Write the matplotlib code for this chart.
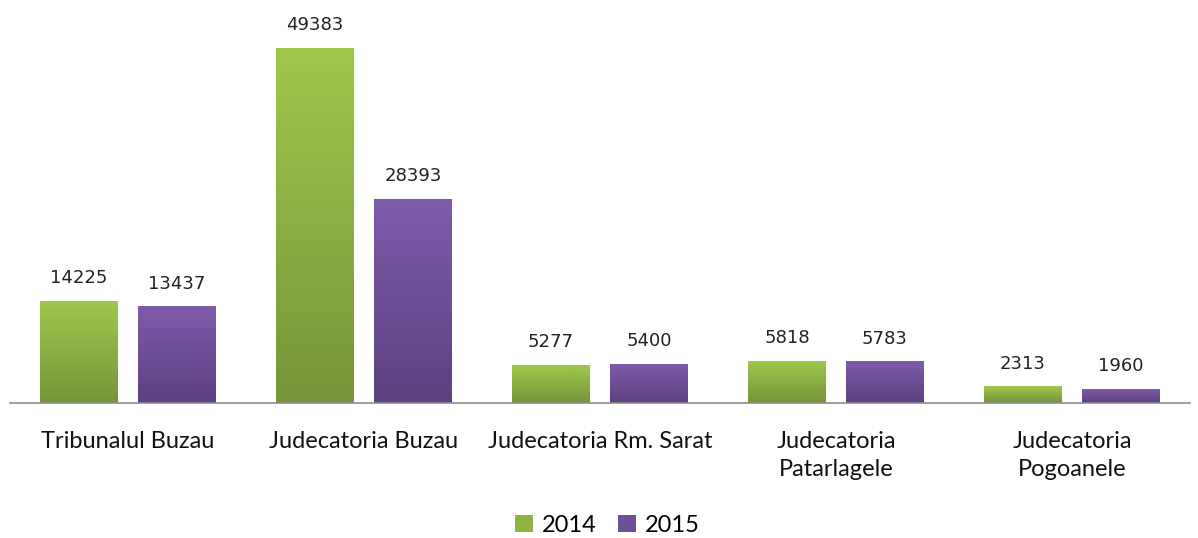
import matplotlib
matplotlib.use("Agg")
import matplotlib.pyplot as plt
import numpy as np
from matplotlib.colors import LinearSegmentedColormap
from matplotlib.patches import Patch

categories = ["Tribunalul Buzau", "Judecatoria Buzau", "Judecatoria Rm. Sarat",
              "Judecatoria\nPatarlagele", "Judecatoria\nPogoanele"]
series_names = ["2014", "2015"]
values_2014 = [14225, 49383, 5277, 5818, 2313]
values_2015 = [13437, 28393, 5400, 5783, 1960]

grad = {
    "2014": ("#9fc84c", "#76953a"),
    "2015": ("#7f5bab", "#5c407f"),
}
legend_col = {"2014": "#8db443", "2015": "#6f4f98"}

W, H = 1198, 538
fig = plt.figure(figsize=(W / 100, H / 100), dpi=100)
ax = fig.add_axes([10 / W, (H - 403) / H, 1180 / W, 393 / H])

x = np.arange(len(categories))
bw = 0.33
gap = 0.085
offsets = [-(bw + gap) / 2, (bw + gap) / 2]
ymax = 49383 * 393 / 355
ax.set_xlim(-0.5, len(categories) - 0.5)
ax.set_ylim(0, ymax)

for name, vals, off in zip(series_names, [values_2014, values_2015], offsets):
    top, bot = grad[name]
    cmap = LinearSegmentedColormap.from_list(name, [bot, top])
    bars = ax.bar(x + off, vals, width=bw, color="none", edgecolor="none", zorder=2)
    for b, v in zip(bars, vals):
        x0 = b.get_x()
        gimg = np.linspace(0, 1, 256).reshape(-1, 1)
        im = ax.imshow(gimg, cmap=cmap, origin="lower", aspect="auto",
                       extent=[x0, x0 + bw, 0, v], zorder=2, interpolation="bilinear")
        im.set_clip_path(b)
        ax.text(x0 + bw / 2, v + ymax * 0.035, str(v), ha="center", va="bottom",
                fontsize=13, color="#222222", family="DejaVu Sans")

ax.set_xlim(-0.5, len(categories) - 0.5)
ax.set_ylim(0, ymax)
for s in ["top", "left", "right"]:
    ax.spines[s].set_visible(False)
ax.spines["bottom"].set_color("#8c8c8c")
ax.spines["bottom"].set_linewidth(1.2)
ax.set_yticks([])
ax.set_xticks(x)
ax.set_xticklabels(categories, fontsize=17, family="Lato", color="#111111", linespacing=1.45)
ax.tick_params(axis="x", length=0, pad=20)
for lbl in ax.get_xticklabels():
    lbl.set_verticalalignment("top")

handles = [Patch(facecolor=legend_col[n], edgecolor="none") for n in series_names]
fig.legend(handles, series_names, loc="center", bbox_to_anchor=(0.507, (H - 525) / H),
           ncol=2, frameon=False, prop={"family": "Lato", "size": 17},
           handlelength=0.75, handleheight=0.75, handletextpad=0.4, columnspacing=0.9)

fig.savefig("out.png", dpi=100)
